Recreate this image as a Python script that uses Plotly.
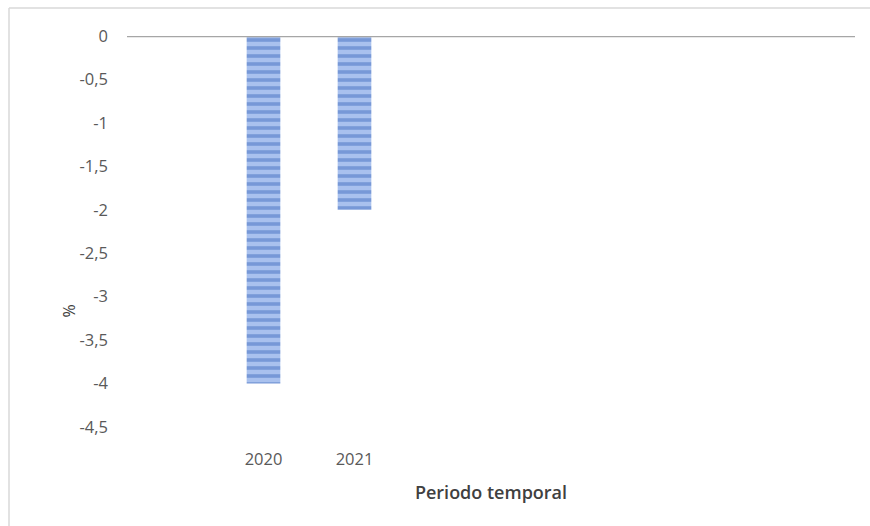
import plotly.graph_objects as go

# Annual variation (%) by year
years = [2020, 2021]
values = [-4.0, -2.0]
year_labels = ["2020", "2021"]
y_ticks = [0, -0.5, -1, -1.5, -2, -2.5, -3, -3.5, -4, -4.5]
y_tick_labels = ["0", "-0,5", "-1", "-1,5", "-2", "-2,5", "-3", "-3,5", "-4", "-4,5"]

W, H = 870, 526
ML, MR, MT, MB = 127, 15, 36, 99
PW, PH = W - ML - MR, H - MT - MB

fig = go.Figure()
fig.add_trace(go.Bar(
    x=years,
    y=values,
    width=0.37,
    marker=dict(
        color="#9fb8e6",
        line=dict(width=0),
        pattern=dict(shape="-", fgcolor="#4670bf", bgcolor="#a9c1ee",
                     size=8, solidity=0.45, fillmode="overlay"),
    ),
    showlegend=False,
))

fig.update_layout(
    width=W, height=H,
    margin=dict(l=ML, r=MR, t=MT, b=MB),
    paper_bgcolor="white", plot_bgcolor="white",
    font=dict(family="Open Sans, sans-serif", size=16.5, color="#595959"),
    xaxis=dict(
        range=[2018.5, 2026.5],
        tickvals=years, ticktext=year_labels,
        showgrid=False, zeroline=False, showline=False, ticks="",
        ticklabelstandoff=20,
        title=dict(text="Periodo temporal",
                   font=dict(size=18, color="#404040", weight=600), standoff=17),
    ),
    yaxis=dict(
        range=[-4.5, 0],
        tickvals=y_ticks, ticktext=y_tick_labels,
        showgrid=False, zeroline=False, showline=False, ticks="",
        ticklabelstandoff=18,
    ),
)

# Baseline at zero
fig.add_shape(type="line", xref="paper", yref="y", x0=0, x1=1, y0=0, y1=0,
              line=dict(color="#a6a6a6", width=2.5), layer="above")

# Outer chart frame: left and top edges
frame_x = (9 - ML) / PW
frame_top = (H - 8 - MB) / PH
frame_bottom = (H - (H + 20) - MB) / PH
frame_right = (W + 20 - ML) / PW
fig.add_shape(type="line", xref="paper", yref="paper",
              x0=frame_x, x1=frame_x, y0=frame_bottom, y1=frame_top,
              line=dict(color="#d9d9d9", width=1.5))
fig.add_shape(type="line", xref="paper", yref="paper",
              x0=frame_x, x1=frame_right, y0=frame_top, y1=frame_top,
              line=dict(color="#d9d9d9", width=1.5))

# Y-axis title
fig.add_annotation(text="%", xref="paper", yref="paper",
                   x=(55 - ML) / PW, y=(H - 320 - MB) / PH,
                   showarrow=False, textangle=-90,
                   font=dict(size=16, color="#404040"))

fig.write_html("out.html", config={"displayModeBar": False})
